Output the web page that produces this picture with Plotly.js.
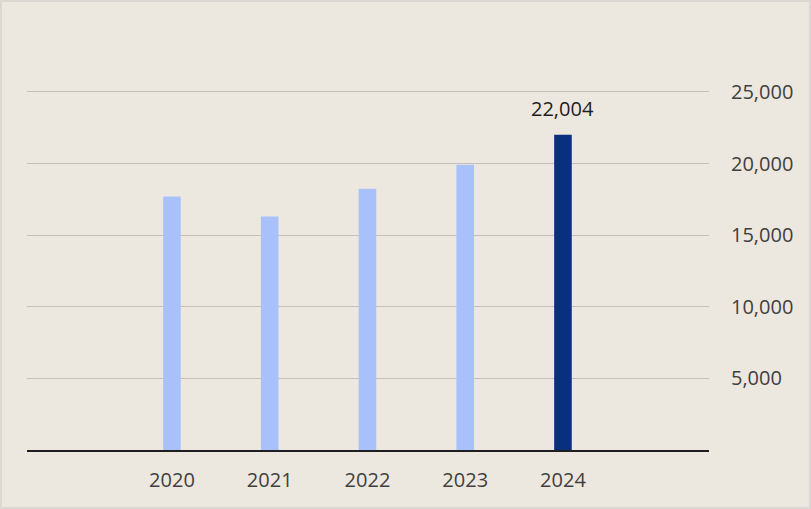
<!DOCTYPE html>
<html>
<head>
<meta charset="utf-8">
<script src="https://cdn.plot.ly/plotly-3.0.1.min.js"></script>
<style>
html,body{margin:0;padding:0;background:#ece8df;}
#wrap{width:807px;height:505px;border:2px solid #dbd8d3;}
#chart{width:807px;height:505px;}
</style>
</head>
<body>
<div id="wrap"><div id="chart"></div></div>
<script>
const years = ['2020', '2021', '2022', '2023', '2024'];
const values = [17700, 16300, 18240, 19910, 22004];
const barColors = ['#a8c1fb', '#a8c1fb', '#a8c1fb', '#a8c1fb', '#0b2f7f'];
const yTicks = [5000, 10000, 15000, 20000, 25000];
const yTickText = ['5,000', '10,000', '15,000', '20,000', '25,000'];

const last = values.length - 1;

Plotly.newPlot('chart', [{
  type: 'bar',
  x: years,
  y: values,
  width: 0.18,
  marker: {color: barColors},
  hoverinfo: 'skip'
}], {
  width: 807, height: 505,
  margin: {l: 25, r: 100, t: 47, b: 57},
  paper_bgcolor: '#ece8df',
  plot_bgcolor: '#ece8df',
  showlegend: false,
  font: {family: 'Open Sans', size: 20, color: '#404040'},
  annotations: [{
    x: last, y: values[last], xref: 'x', yref: 'y',
    text: values[last].toLocaleString('en-US'),
    showarrow: false, yanchor: 'bottom', yshift: 11,
    font: {family: 'Open Sans', size: 20, color: '#1e1e1e'}
  }],
  xaxis: {
    type: 'category',
    range: [-1.483, 5.494],
    showline: true, linecolor: '#1e1e1e', linewidth: 2,
    showgrid: false, zeroline: false,
    ticks: '', ticklabelstandoff: 11,
    tickfont: {family: 'Open Sans', size: 20, color: '#404040'},
    fixedrange: true
  },
  yaxis: {
    side: 'right',
    range: [0, 28000],
    tickvals: yTicks,
    ticktext: yTickText,
    showgrid: true, gridcolor: '#c4c0b9', gridwidth: 1,
    zeroline: false, showline: false,
    ticks: '', ticklabelstandoff: 21,
    tickfont: {family: 'Open Sans', size: 20, color: '#404040'},
    fixedrange: true
  }
}, {displayModeBar: false, staticPlot: true});
</script>
</body>
</html>
